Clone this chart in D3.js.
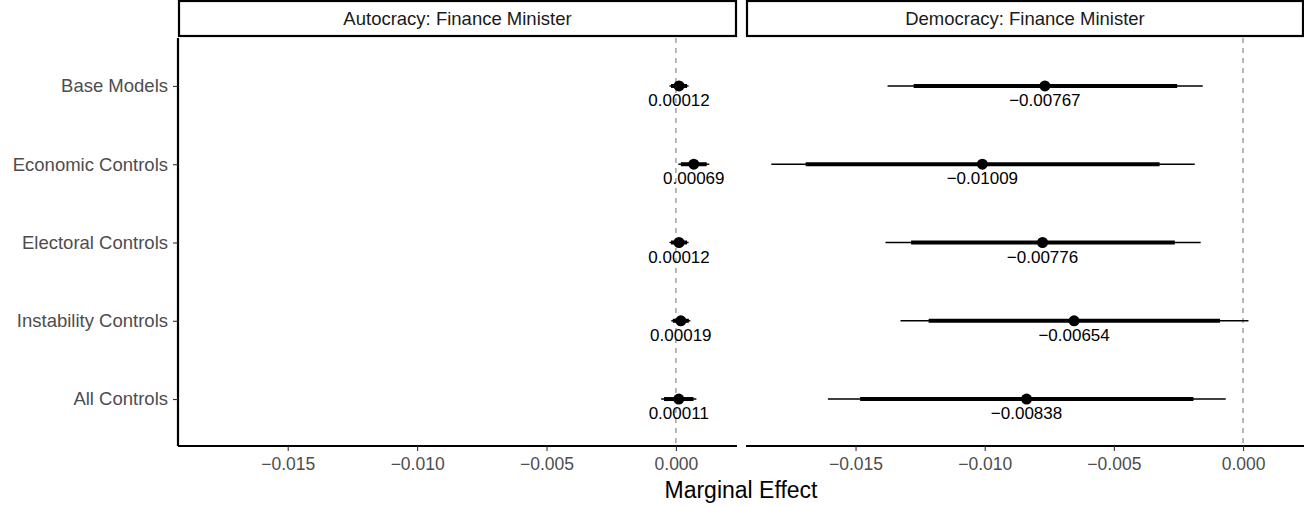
<!DOCTYPE html>
<meta charset="utf-8">
<style>
  body { margin: 0; background: #fff; }
  text { font-family: "Liberation Sans", Arial, sans-serif; }
</style>
<svg width="1304" height="506"></svg>
<script src="https://d3js.org/d3.v7.min.js"></script>
<script>
  // data
  var models = ["Base Models", "Economic Controls", "Electoral Controls", "Instability Controls", "All Controls"];
  var panels = ["Autocracy: Finance Minister", "Democracy: Finance Minister"];

  var autEst = [0.00012, 0.00069, 0.00012, 0.00019, 0.00011];
  var autLo95 = [-0.00025, 0.00009, -0.00025, -0.00018, -0.00057];
  var autHi95 = [0.00049, 0.00129, 0.00049, 0.00056, 0.00079];
  var autLo90 = [-0.00019, 0.00019, -0.00019, -0.00012, -0.00046];
  var autHi90 = [0.00043, 0.00119, 0.00043, 0.00050, 0.00068];

  var demEst = [-0.00767, -0.01009, -0.00776, -0.00654, -0.00838];
  var demLo95 = [-0.01376, -0.01826, -0.01384, -0.01326, -0.01607];
  var demHi95 = [-0.00156, -0.00187, -0.00164, 0.00021, -0.00067];
  var demLo90 = [-0.01275, -0.01693, -0.01285, -0.01217, -0.01482];
  var demHi90 = [-0.00255, -0.00323, -0.00264, -0.00089, -0.00192];

  var xTicks = [-0.015, -0.010, -0.005, 0.000];

  var svg = d3.select("svg");

  var plotTop = 39, plotBottom = 446;
  var panelX = [[178, 737], [746, 1304]];

  var y = d3.scalePoint().domain(models).range([plotTop, plotBottom]).padding(0.6);

  var fmtTick = function(d) { return d3.format(".3f")(d).replace("-", "\u2212"); };
  var fmtLab = function(d) { return d3.format(".5f")(d).replace("-", "\u2212"); };

  var sets = [
    { est: autEst, lo95: autLo95, hi95: autHi95, lo90: autLo90, hi90: autHi90 },
    { est: demEst, lo95: demLo95, hi95: demHi95, lo90: demLo90, hi90: demHi90 }
  ];

  panels.forEach(function(name, p) {
    var x = d3.scaleLinear().domain([-0.01924, 0.00236]).range(panelX[p]);
    var g = svg.append("g");
    var s = sets[p];
    var rows = models.map(function(m, i) {
      return { m: m, est: s.est[i], lo95: s.lo95[i], hi95: s.hi95[i], lo90: s.lo90[i], hi90: s.hi90[i] };
    });

    // strip
    g.append("rect")
      .attr("x", panelX[p][0] + 1).attr("y", 1)
      .attr("width", panelX[p][1] - panelX[p][0] - 2).attr("height", 35)
      .attr("fill", "#fff").attr("stroke", "#000").attr("stroke-width", 2.2);
    g.append("text")
      .attr("x", (panelX[p][0] + panelX[p][1]) / 2).attr("y", 25)
      .attr("text-anchor", "middle")
      .attr("fill", "#1a1a1a")
      .style("font-size", "18.5px")
      .text(name);

    // zero line
    g.append("line")
      .attr("x1", x(0)).attr("x2", x(0))
      .attr("y1", plotTop - 1).attr("y2", plotBottom)
      .attr("stroke", "#7f7f7f").attr("stroke-width", 1.1)
      .attr("stroke-dasharray", "5,5");

    // x axis
    var ax = g.append("g")
      .attr("transform", "translate(0," + plotBottom + ")")
      .call(d3.axisBottom(x).tickValues(xTicks).tickFormat(fmtTick).tickSize(5).tickPadding(7));
    ax.select(".domain").attr("stroke", "#000").attr("stroke-width", 2.2)
      .attr("d", "M" + panelX[p][0] + ",0H" + panelX[p][1]);
    ax.selectAll(".tick line").attr("stroke", "#333").attr("stroke-width", 1.1);
    ax.selectAll(".tick text")
      .attr("fill", "#4d4d4d")
      .style("font-size", "17.5px")
      .style("font-family", "Liberation Sans, Arial, sans-serif");

    // 95% intervals
    g.selectAll(".ci95").data(rows).enter().append("line")
      .attr("x1", function(d) { return x(d.lo95); })
      .attr("x2", function(d) { return x(d.hi95); })
      .attr("y1", function(d) { return y(d.m); })
      .attr("y2", function(d) { return y(d.m); })
      .attr("stroke", "#000").attr("stroke-width", 1.4);

    // 90% intervals
    g.selectAll(".ci90").data(rows).enter().append("line")
      .attr("x1", function(d) { return x(d.lo90); })
      .attr("x2", function(d) { return x(d.hi90); })
      .attr("y1", function(d) { return y(d.m); })
      .attr("y2", function(d) { return y(d.m); })
      .attr("stroke", "#000").attr("stroke-width", 4);

    g.selectAll(".pt").data(rows).enter().append("circle")
      .attr("cx", function(d) { return x(d.est); })
      .attr("cy", function(d) { return y(d.m); })
      .attr("r", 5.5)
      .attr("fill", "#000");

    g.selectAll(".lab").data(rows).enter().append("text")
      .attr("x", function(d) { return x(d.est); })
      .attr("y", function(d) { return y(d.m) + 20; })
      .attr("text-anchor", "middle")
      .style("font-size", "17px")
      .attr("fill", "#000")
      .text(function(d) { return fmtLab(d.est); });
  });

  // y axis on the left panel
  var ay = svg.append("g")
    .attr("transform", "translate(" + panelX[0][0] + ",0)")
    .call(d3.axisLeft(y).tickSize(5).tickPadding(5));
  ay.select(".domain").attr("stroke", "#000").attr("stroke-width", 2.2)
    .attr("d", "M0," + (plotTop - 1) + "V" + plotBottom);
  ay.selectAll(".tick line").attr("stroke", "#333").attr("stroke-width", 1.1);
  ay.selectAll(".tick text")
    .attr("fill", "#4d4d4d")
    .style("font-size", "18.5px")
    .style("font-family", "Liberation Sans, Arial, sans-serif");

  // axis title
  svg.append("text")
    .attr("x", (panelX[0][0] + panelX[1][1]) / 2).attr("y", 498)
    .attr("text-anchor", "middle")
    .style("font-size", "23px")
    .attr("fill", "#000")
    .text("Marginal Effect");
</script>
